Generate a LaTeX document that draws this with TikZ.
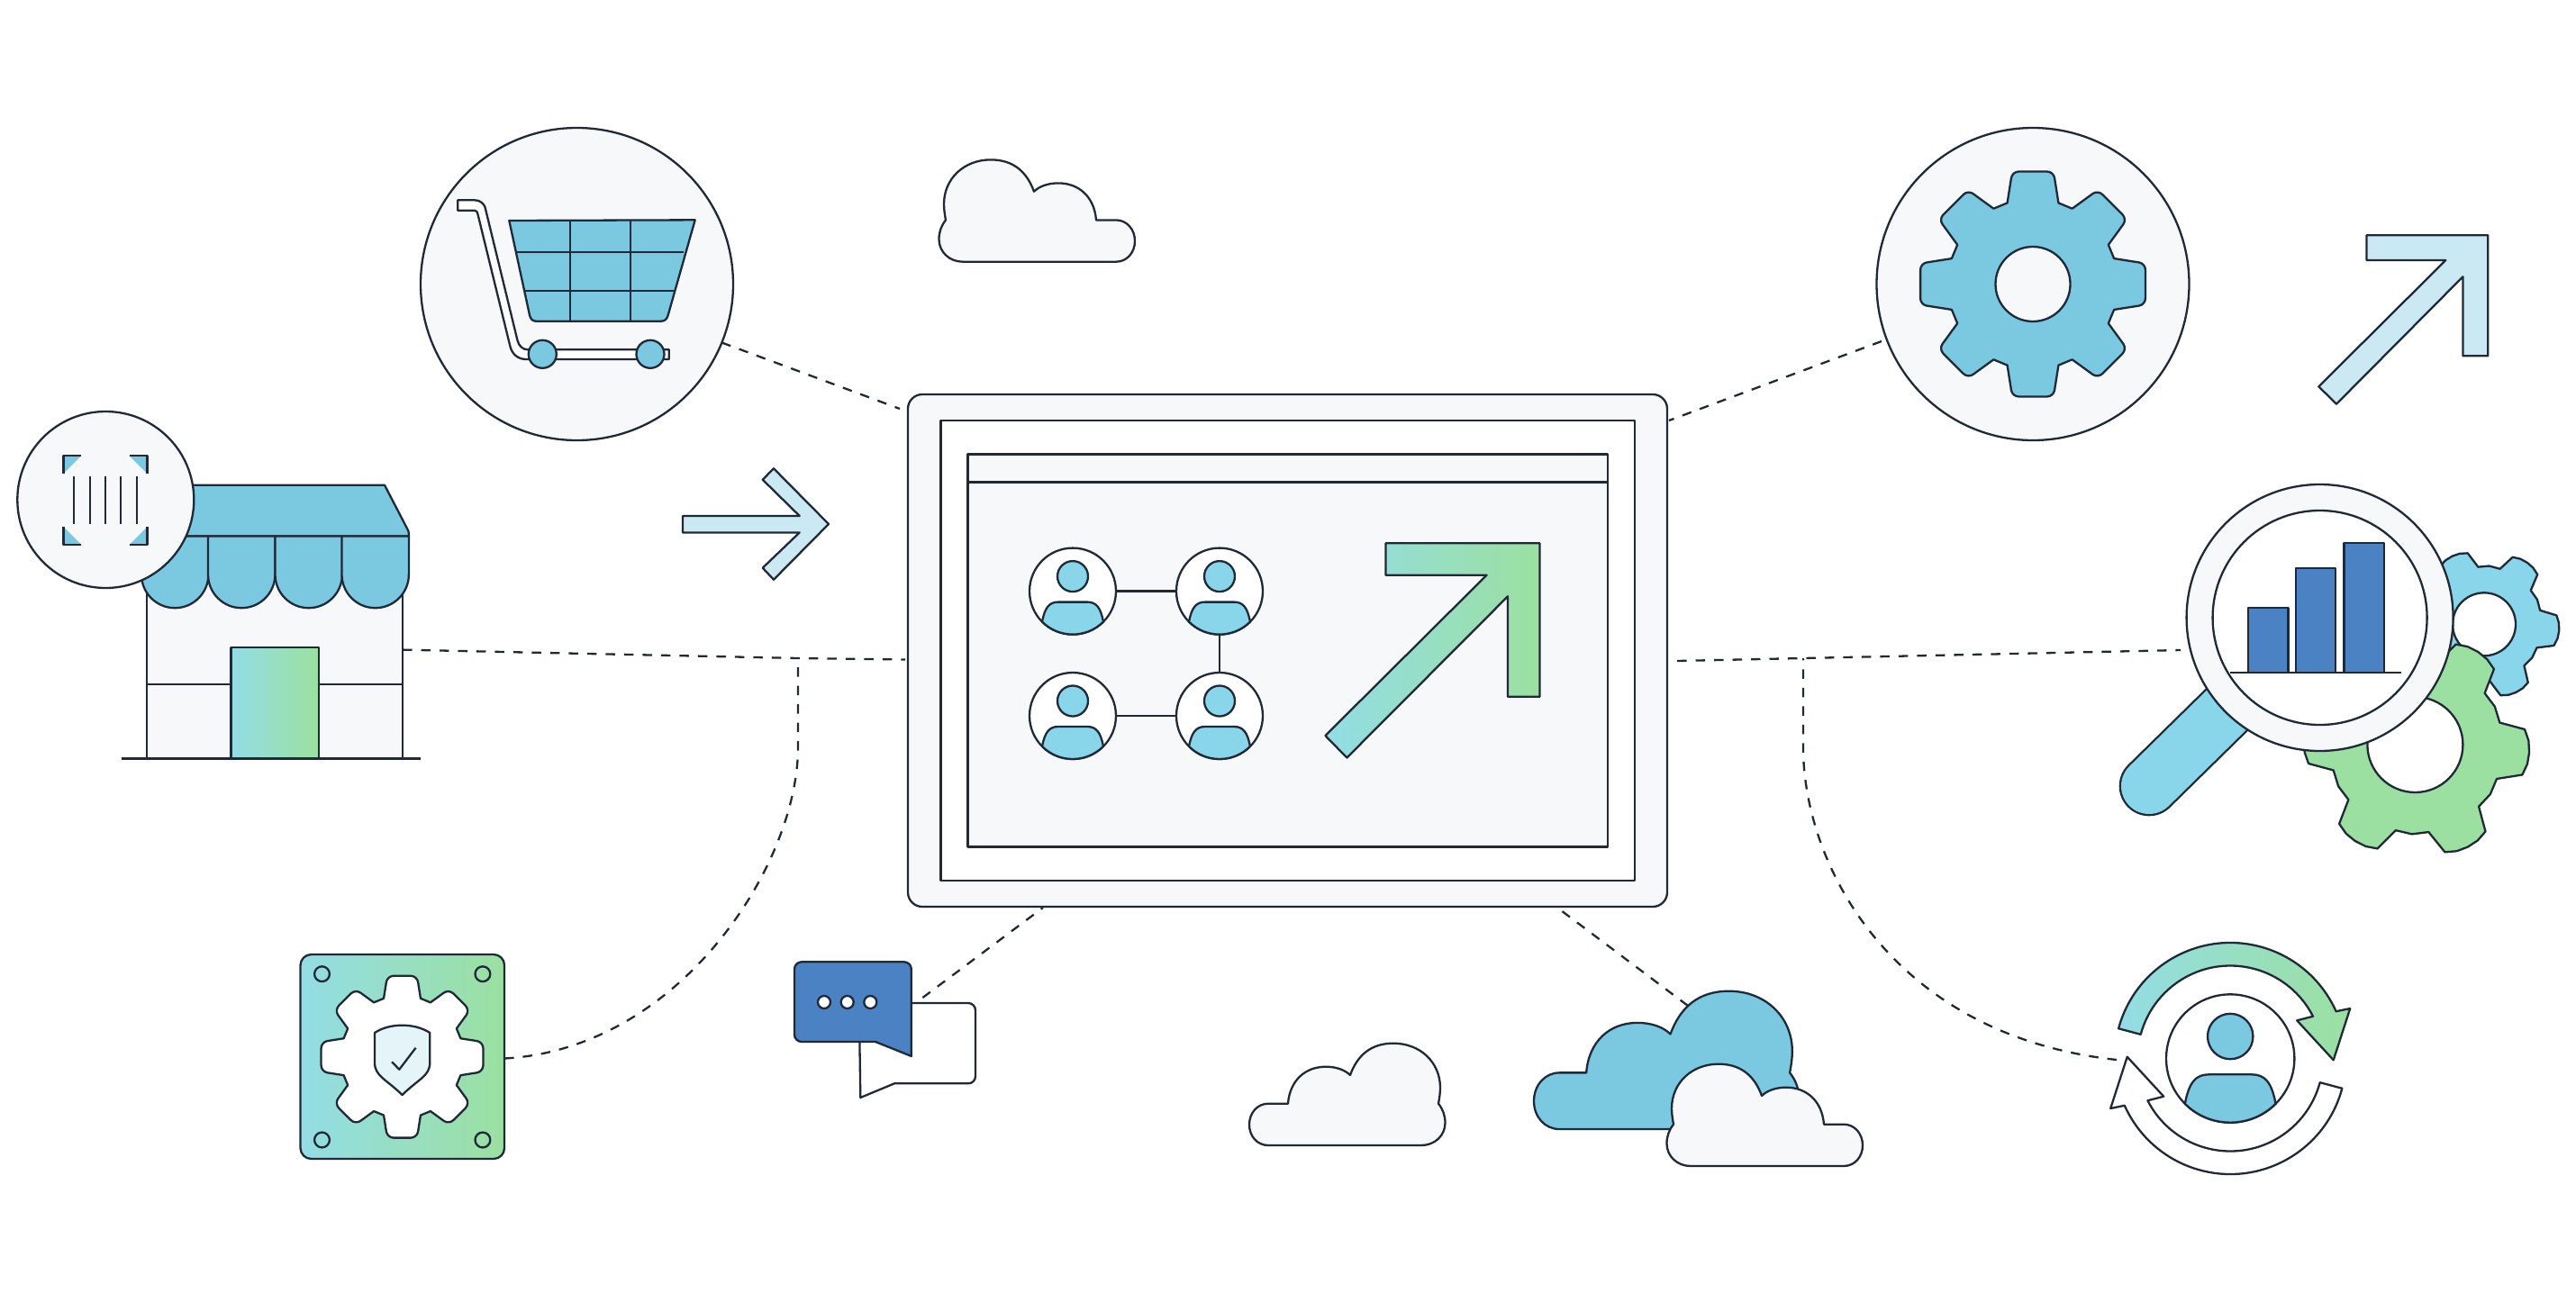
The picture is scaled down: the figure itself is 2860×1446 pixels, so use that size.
\documentclass[tikz,border=0pt]{standalone}
\usepackage{tikz}
\usetikzlibrary{positioning}

\definecolor{inkc}{HTML}{1F2937}
\definecolor{panelc}{HTML}{F6F8FA}
\definecolor{skyc}{HTML}{7AC9E1}
\definecolor{mistc}{HTML}{89D5EA}
\definecolor{palec}{HTML}{CBE9F3}
\definecolor{tealc}{HTML}{93DDE5}
\definecolor{leafc}{HTML}{9BE0A0}
\definecolor{barc}{HTML}{4A82C3}
\definecolor{shieldc}{HTML}{E5F4F9}

\tikzset{
  ink/.style={draw=inkc, line width=2.3pt, line join=round},
  disc/.style={ink, circle, inner sep=0pt, outer sep=0pt},
  box/.style={ink, rectangle, inner sep=0pt, outer sep=0pt},
  link/.style={draw=inkc, line width=2.3pt, dash pattern=on 10.5pt off 10pt},
  fade/.style={left color=tealc, right color=leafc}
}

% eight teeth, the big gear, only the tips are round
\newcommand{\gearoutline}{(22.5:94.1) \foreach \a in {45,90,...,360}{ [sharp corners] -- (\a-17.5:94.5) [rounded corners=7pt] -- (\a-10.4:127) -- (\a+10.4:127) [sharp corners] -- (\a+17.5:94.5)} -- cycle}
% six teeth, #1 turns it
\newcommand{\cogoutline}[1]{(#1+30:65) \foreach \a in {60,120,...,360}{ -- (\a+#1-19:64) -- (\a+#1-12:81) -- (\a+#1-6:83) -- (\a+#1:83.5) -- (\a+#1+6:83) -- (\a+#1+12:81) -- (\a+#1+19:64) -- (\a+#1+30:65)} -- cycle}
\newcommand{\cloudoutline}{(21,0) .. controls (9,0) and (0,-10) .. (0,-23) .. controls (0,-36) and (9,-46.3) .. (21,-46.3) -- (43,-46.3) .. controls (45,-72) and (62,-87.3) .. (85,-87.3) .. controls (96,-87.3) and (106,-84) .. (112,-78) .. controls (120,-100) and (135,-113.3) .. (160,-113.3) .. controls (190,-113.3) and (212,-92) .. (212,-64) .. controls (212,-58) and (211,-52) .. (210,-46.3) .. controls (215,-40) and (217.5,-33) .. (217.5,-25) .. controls (217.5,-11) and (206,0) .. (191,0) -- cycle}
% name, place, size, fill
\newcommand{\persona}[4]{
  \node[disc, fill=white, minimum size=#3*96pt] (#1) at (#2) {};
  \begin{scope}[shift={(#2)},scale=#3]
    \draw[ink, fill=#4] (0,-16.5) circle[radius=17];
    \draw[ink, fill=#4] (135:48) arc[start angle=135,end angle=45,radius=48] .. controls (31,18) and (26,12) .. (16,12) -- (-16,12) .. controls (-26,12) and (-31,18) .. (135:48) -- cycle;
  \end{scope}
}

\begin{document}
\begin{tikzpicture}[x=1pt,y=-1pt]
\useasboundingbox (0,0) rectangle (2860,1446);

% Ports of the connectors
\coordinate (cartport) at (999,454);
\coordinate (gearport) at (1853,467);
\coordinate (shopport) at (1005,732.5);
\coordinate (lensport) at (1862,734);
\coordinate (chatport) at (1158,1008);
\coordinate (cloudport) at (1729,1008);
\coordinate (leftfork) at (886,731);
\coordinate (leftbend) at (886,830);
\coordinate (rightfork) at (2002,731);
\coordinate (rightbend) at (2002,830);
\coordinate (lensend) at (2421,722);
\coordinate (cycleend) at (2350,1177);
\coordinate (chatend) at (1024.4,1108);
\coordinate (cloudend) at (1874,1117);
\coordinate (gearend) at (2089,379);

% Discs and boxes the connectors start from
\node[disc, fill=panelc, minimum size=347pt] (cartdisc) at (640.5,315.5) {};
\node[disc, fill=panelc, minimum size=347pt] (geardisc) at (2257,315.5) {};
\node[box, fill=panelc, minimum width=284pt, minimum height=242pt] (shopbody) at (305,721.6) {};
\node[box, left color=tealc, right color=leafc, rounded corners=12pt, minimum width=226.5pt, minimum height=227pt] (plate) at (446.8,1173.5) {};

% Connectors
\draw[link] (cartdisc.-22) -- (cartport);
\draw[link] (gearend) -- (gearport);
\draw[link] (shopbody.east) -- (leftfork) -- (shopport);
\draw[link] (lensport) -- (rightfork) -- (lensend);
\draw[link] ([yshift=-2pt]plate.east) .. controls (755,1165) and (886,960) .. (leftbend) -- (leftfork);
\draw[link] (cycleend) .. controls (2100,1150) and (2002,960) .. (rightbend) -- (rightfork);
\draw[link] (chatend) -- (chatport);
\draw[link] (cloudend) -- (cloudport);

% Screen
\node[box, fill=panelc, rounded corners=16pt, minimum width=843pt, minimum height=569pt] (screen) at (1429.5,722.5) {};
\node[box, fill=white, minimum width=770.5pt, minimum height=511pt] (pane) at (1429.75,722.5) {};
\node[box, fill=panelc, minimum width=710.5pt, minimum height=436pt] (window) at (1429.75,722.5) {};
\draw[ink] (window.north west |- 0,535.5) -- (window.north east |- 0,535.5);
\persona{userA}{1191,656.6}{1}{mistc}
\persona{userB}{1354,656.6}{1}{mistc}
\persona{userC}{1191,795}{1}{mistc}
\persona{userD}{1354,795}{1}{mistc}
\draw[ink] (userA) -- (userB);
\draw[ink] (userB) -- (userD);
\draw[ink] (userC) -- (userD);
\draw[ink, fade] (1538.5,603.2) -- (1709.4,603.2) -- (1709.4,773.7) -- (1674,773.7) -- (1674,662.3) -- (1495.4,841.5) -- (1471.4,817) -- (1650.6,638.7) -- (1538.5,638.7) -- cycle;

% Cart
\draw[ink, fill=white] (508.3,222.3) -- (527,222.3) .. controls (533,222.3) and (537,226) .. (538.5,230) -- (574.5,378) .. controls (576,384) and (580,388.3) .. (586,388.3) -- (742.7,388.3) -- (742.7,399) -- (584,399) .. controls (575,399) and (568.5,393) .. (566.5,385) -- (530.5,238) .. controls (530,236) and (529.5,233.7) .. (527,233.7) -- (508.3,233.7) -- cycle;
\draw[ink, fill=skyc] (565.3,245) -- (771.7,244.3) -- (741.7,350) .. controls (740.5,354.5) and (738,356.7) .. (734,356.7) -- (595,356.7) .. controls (591,356.7) and (589,354) .. (588,350) -- cycle;
\draw[ink] (632.7,245) -- (632.7,356.7);
\draw[ink] (699.7,245) -- (699.7,356.7);
\draw[ink] (573.3,280.3) -- (759.3,280.3);
\draw[ink] (583.3,322.7) -- (748.3,322.7);
\node[disc, fill=skyc, minimum size=31pt] (wheelA) at (602.3,393.3) {};
\node[disc, fill=skyc, minimum size=31pt] (wheelB) at (722,393.3) {};

% Gear in its disc
\begin{scope}[shift={(2257,315.5)}]
  \draw[ink, fill=skyc] \gearoutline;
\end{scope}
\node[disc, fill=panelc, minimum size=83pt] (gearhole) at (2257,315.5) {};

% Shop
\draw[ink, fill=skyc] (184,538.7) -- (427,538.7) -- (451,585) .. controls (453,588) and (454,590) .. (454,595.4) -- (157,595.4) -- cycle;
\foreach \x in {157,231,305.5,379.5}
  \draw[ink, fill=skyc] (\x,595.4) -- (\x,638) arc[start angle=180,end angle=0,radius=37.2] -- (\x+74.4,595.4) -- cycle;
\draw[ink] (163,760) -- (447,760);
\node[box, fade, minimum width=97.5pt, minimum height=123.6pt] (door) at (305.25,780.8) {};
\draw[ink] (134.7,842.6) -- (467,842.6);

% Barcode
\node[disc, fill=panelc, minimum size=196pt] (barcode) at (117.3,555) {};
\foreach \cx/\cy/\dx/\dy in {70.4/506/20/20, 163.5/506/-20/20, 70.4/605/20/-20, 163.5/605/-20/-20}{
  \fill[skyc] (\cx,\cy) -- (\cx+\dx,\cy) -- (\cx,\cy+\dy) -- cycle;
  \draw[ink] (\cx+\dx,\cy) -- (\cx,\cy) -- (\cx,\cy+\dy);
}
\foreach \x in {82,100,117,134,152}
  \draw[ink] (\x,529) -- (\x,581.5);

% Arrows
\draw[ink, fill=palec] (758,573) -- (887.7,573) -- (846.7,532.7) -- (859,520.3) -- (920,582) -- (859,643.7) -- (846.7,630.7) -- (887.7,591.4) -- (758,591.4) -- cycle;
\draw[ink, fill=palec] (2627.5,261.3) -- (2762.3,261.3) -- (2762.3,395.3) -- (2734.4,395.3) -- (2734.4,307.3) -- (2594,448.7) -- (2574.3,429.3) -- (2715.3,289) -- (2627.5,289) -- cycle;

% Plate
\foreach \x in {357.5,535.9}
  \foreach \y in {1081.7,1266}
    \draw[ink] (\x,\y) circle[radius=8.4];
\begin{scope}[shift={(446.5,1173.7)},scale=0.72]
  \draw[ink, fill=white] \gearoutline;
\end{scope}
\draw[ink, fill=shieldc] (416,1147) .. controls (425,1141) and (436,1138.7) .. (446.6,1138.7) .. controls (457,1138.7) and (468,1141) .. (477.3,1147) -- (477.3,1180) .. controls (477.3,1195) and (465,1198) .. (446.6,1216) .. controls (428,1198) and (416,1195) .. (416,1180) -- cycle;
\draw[ink] (435,1179.3) -- (443.3,1187.7) -- (461.6,1163.7);

% Chat
\draw[ink, fill=white] (954.3,1150) -- (954.3,1114) [rounded corners=8pt] -- (1083,1114) -- (1083,1203.3) [sharp corners] -- (993,1203.3) -- (955.3,1219) -- cycle;
\draw[ink, fill=barc] (882,1100) [rounded corners=8pt] -- (882,1068.3) -- (1011.8,1068.3) [sharp corners] -- (1011.8,1173) -- (972,1157) [rounded corners=8pt] -- (882,1157) -- cycle;
\foreach \x in {915,940.7,966.3}
  \draw[ink, fill=white] (\x,1113) circle[radius=7];

% Clouds
\begin{scope}[shift={(1260,290.7)},xscale=-1]
  \draw[ink, fill=panelc] \cloudoutline;
\end{scope}
\begin{scope}[shift={(1387,1272)}]
  \draw[ink, fill=panelc] \cloudoutline;
\end{scope}
\begin{scope}[shift={(1703,1254)},scale=1.353]
  \draw[ink, fill=skyc] \cloudoutline;
\end{scope}
\begin{scope}[shift={(2068,1295)},xscale=-1]
  \draw[ink, fill=panelc] \cloudoutline;
\end{scope}

% Magnifier with the two gears
\begin{scope}[shift={(2758,693.3)}]
  \draw[ink, fill=mistc] \cogoutline{5};
\end{scope}
\node[disc, fill=white, minimum size=70pt] (coghole) at (2758,693.3) {};
\begin{scope}[shift={(2683,829)},scale=1.5]
  \draw[ink, fill=leafc] \cogoutline{3};
\end{scope}
\node[disc, fill=white, minimum size=106pt] (leafhole) at (2681.4,827) {};
\coordinate (grip) at (2386,873);
\coordinate (gripend) at (2500,761);
\coordinate (lensmid) at (2575.6,686);
\draw[draw=inkc, line width=2.3pt, line cap=round, double=mistc, double distance=62pt] (grip) -- (gripend);
\node[disc, fill=panelc, minimum size=296pt] (lens) at (lensmid) {};
\node[disc, fill=white, minimum size=238pt] (lensglass) at (lensmid) {};
\foreach \x/\y/\w in {2518.2/674.7/44.4, 2571.1/631.3/44.2, 2624.6/602.7/44.3}
  \draw[ink, fill=barc] (\x-\w/2,747.3) rectangle (\x+\w/2,\y);
\draw[ink] (2476.4,747.3) -- (2666,747.3);

% User in the loop
\persona{loopuser}{2476.2,1175.5}{1.483}{skyc}
\begin{scope}[shift={(2476.2,1175.5)}]
  \draw[ink, fade] (195:128.5) arc[start angle=195,end angle=336,radius=128.5] -- (133,-55.5) -- (114.5,1.8) -- (74,-42.2) -- (333:103) arc[start angle=333,end angle=195,radius=103] -- cycle;
  \draw[ink, fill=white] (15:128.5) arc[start angle=15,end angle=156,radius=128.5] -- (-133,55.5) -- (-114.5,-1.8) -- (-74,42.2) -- (153:103) arc[start angle=153,end angle=15,radius=103] -- cycle;
\end{scope}
\end{tikzpicture}
\end{document}
